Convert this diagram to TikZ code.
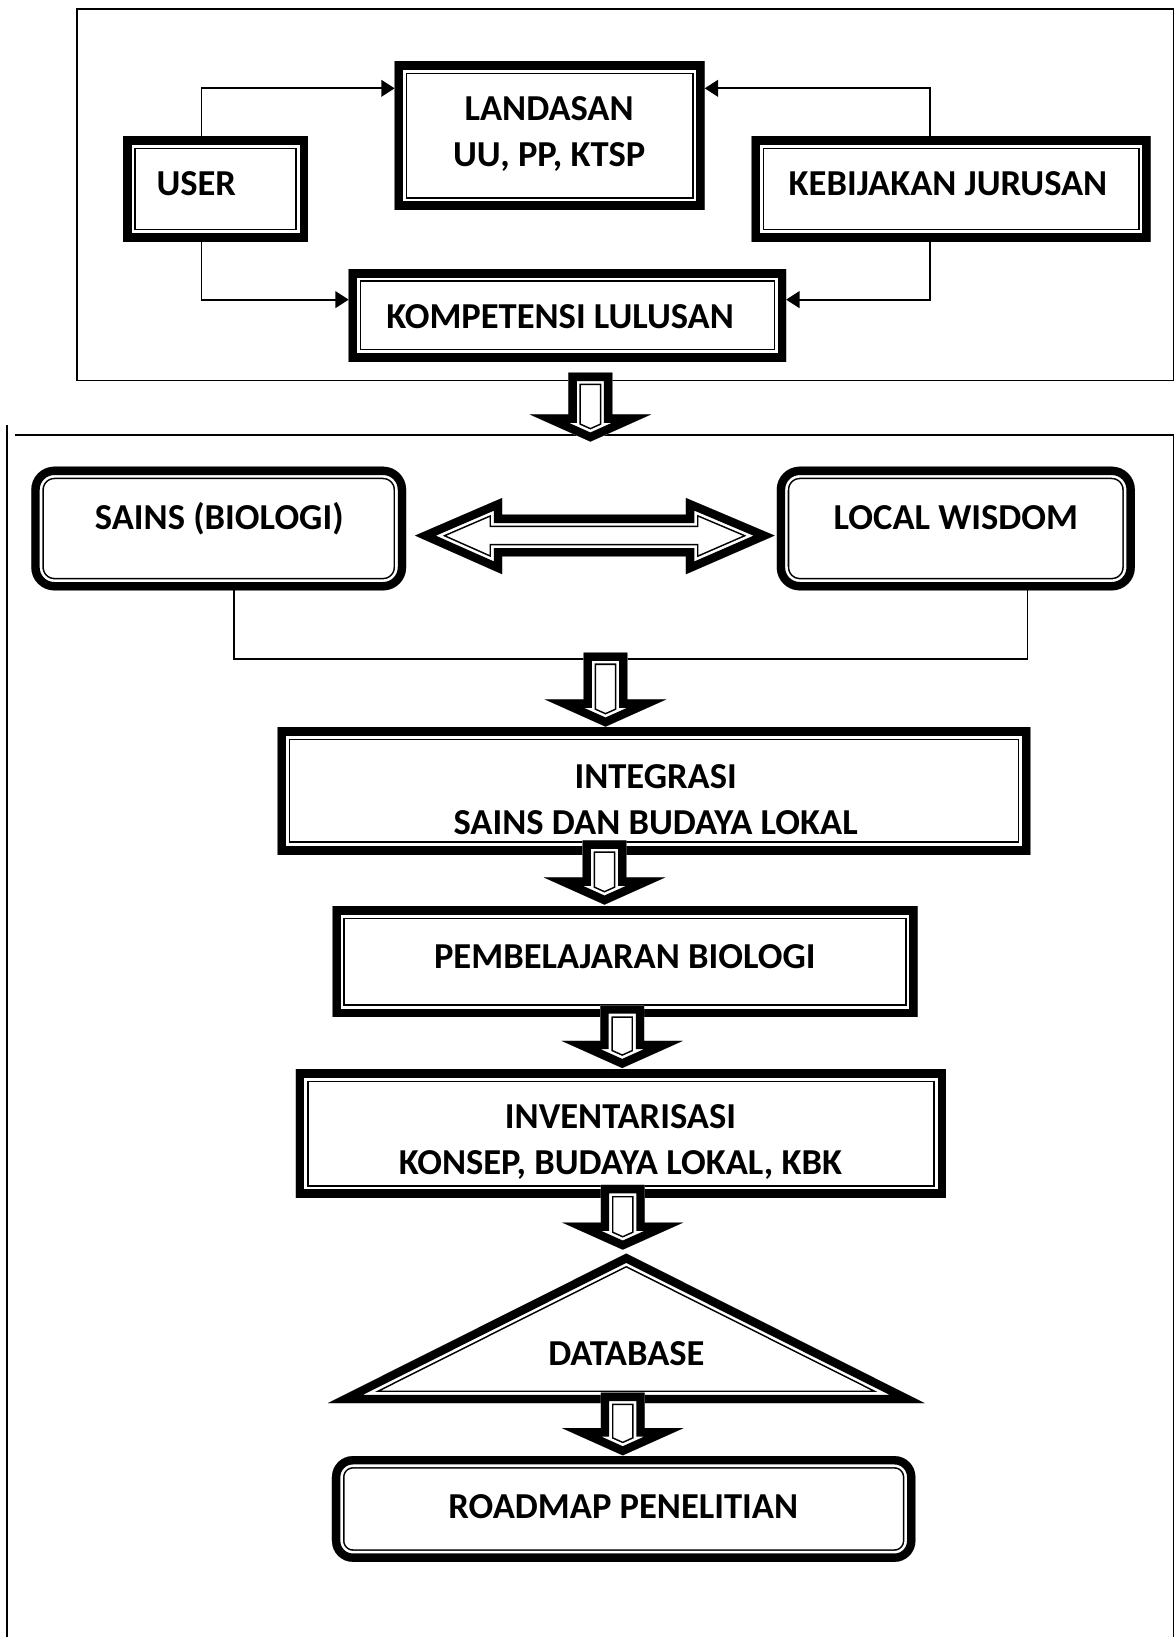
\documentclass[tikz,border=0pt]{standalone}
\usepackage{fontspec}
\setmainfont{Carlito}
\usetikzlibrary{fit,arrows.meta}

% thick-thin frame drawn inside a closed path
\newcommand\ttframe[2][]{%
  \begin{scope}
    \clip[#1] #2;
    \fill[white,#1] #2;
    \draw[#1,line width=12pt,line join=miter] #2;
    \draw[#1,white,line width=10.5pt,line join=miter] #2;
    \draw[#1,line width=8pt,line join=miter] #2;
  \end{scope}}

% block arrow pointing down: centre x, top y, tip y
\newcommand\blockdown[3]{%
  \ttframe{(#1-21,#2) -- (#1-21,#3-26) -- (#1-58,#3-26) -- (#1,#3) -- (#1+58,#3-26) -- (#1+21,#3-26) -- (#1+21,#2) -- cycle}}

\begin{document}
\begin{tikzpicture}[x=0.5pt,y=-0.5pt,
  area/.style={inner sep=0pt, outer sep=0pt},
  txt/.style={font=\fontsize{17.5}{22}\selectfont\bfseries, inner sep=0pt, align=center},
  frame/.style={line width=0.9pt},
  conn/.style={line width=0.9pt, -{Triangle[length=6.4pt,width=8pt]}},
  link/.style={line width=0.7pt}]
\useasboundingbox (0,0) rectangle (1126,1568);

% grouping frames
\draw[frame] (73.5,8.5) rectangle (1124,364.5);
\draw[frame] (6.6,407) -- (6.6,1568);
\draw[frame] (14,416.5) -- (1124,416.5) -- (1124,1568);

% box areas
\node[area, fit={(118,131) (295,231)}] (user) {};
\node[area, fit={(378,59) (675,201)}] (landasan) {};
\node[area, fit={(720,131) (1102,231)}] (kebijakan) {};
\node[area, fit={(334,258) (753,346)}] (kompetensi) {};
\node[area, fit={(30,447) (389,565.5)}] (sains) {};
\node[area, fit={(744,447) (1087,565.5)}] (lw) {};
\node[area, fit={(266,697) (987,818)}] (integrasi) {};
\node[area, fit={(318.5,868.6) (879,974)}] (pembelajaran) {};
\node[area, fit={(283.5,1024.5) (906,1147)}] (inventarisasi) {};
\node[area, fit={(314,1200.7) (885.7,1344)}] (db) {};
\node[area, fit={(318,1394.7) (876.8,1496)}] (roadmap) {};

% frames of boxes
\ttframe{(user.north west) rectangle (user.south east)}
\ttframe{(landasan.north west) rectangle (landasan.south east)}
\ttframe{(kebijakan.north west) rectangle (kebijakan.south east)}
\ttframe{(kompetensi.north west) rectangle (kompetensi.south east)}
\ttframe[rounded corners=11pt]{(sains.north west) rectangle (sains.south east)}
\ttframe[rounded corners=11pt]{(lw.north west) rectangle (lw.south east)}
\ttframe{(integrasi.north west) rectangle (integrasi.south east)}
\ttframe{(pembelajaran.north west) rectangle (pembelajaran.south east)}
\ttframe{(inventarisasi.north west) rectangle (inventarisasi.south east)}
\ttframe{(db.north) -- (db.south east) -- (db.south west) -- cycle}
\ttframe[rounded corners=10pt]{(roadmap.north west) rectangle (roadmap.south east)}

% thin connectors
\coordinate (ul) at (193,84.6);
\coordinate (ll) at (193,287);
\coordinate (ur) at (890.5,84.6);
\coordinate (lr) at (890.5,287);
\draw[conn] (user.north -| ul) |- (landasan.west |- ul);
\draw[conn] (user.south -| ll) |- (kompetensi.west |- ll);
\draw[conn] (kebijakan.north -| ur) |- (landasan.east |- ur);
\draw[conn] (kebijakan.south -| lr) |- (kompetensi.east |- lr);

\coordinate (bl) at (224,631);
\coordinate (br) at (984,631);
\draw[link] (sains.south -| bl) -- (bl) -- (br) -- (lw.south -| br);

% double block arrow
\ttframe{(397.5,513) -- (481,477) -- (481,493) -- (657,493) -- (657,477) -- (742,513) -- (657,550) -- (657,533) -- (481,533) -- (481,550) -- cycle}

% block arrows down
\blockdown{565.5}{357}{423}
\blockdown{580}{625}{696}
\blockdown{579}{805}{866.5}
\blockdown{596}{963}{1023}
\blockdown{596.5}{1135}{1197}
\blockdown{596.5}{1334}{1394}

% texts
\node[txt, anchor=base] (user-t) at (188,186.8) {USER};
\node[txt] (landasan-t) at (526,128.3) {LANDASAN\\UU, PP, KTSP};
\node[txt, anchor=base] (kebijakan-t) at (908,187.3) {KEBIJAKAN JURUSAN};
\node[txt, anchor=base] (kompetensi-t) at (536.5,314.3) {KOMPETENSI LULUSAN};
\node[txt, anchor=base] (sains-t) at (210,507.3) {SAINS (BIOLOGI)};
\node[txt, anchor=base] (lw-t) at (915.6,507.3) {LOCAL WISDOM};
\node[txt] (integrasi-t) at (628,765.5) {INTEGRASI\\SAINS DAN BUDAYA LOKAL};
\node[txt, anchor=base] (pembelajaran-t) at (598.5,927.3) {PEMBELAJARAN BIOLOGI};
\node[txt] (inventarisasi-t) at (594.3,1093.7) {INVENTARISASI\\KONSEP, BUDAYA LOKAL, KBK};
\node[txt, anchor=base] (db-t) at (600,1307.8) {DATABASE};
\node[txt, anchor=base] (roadmap-t) at (597,1454.3) {ROADMAP PENELITIAN};
\end{tikzpicture}
\end{document}
